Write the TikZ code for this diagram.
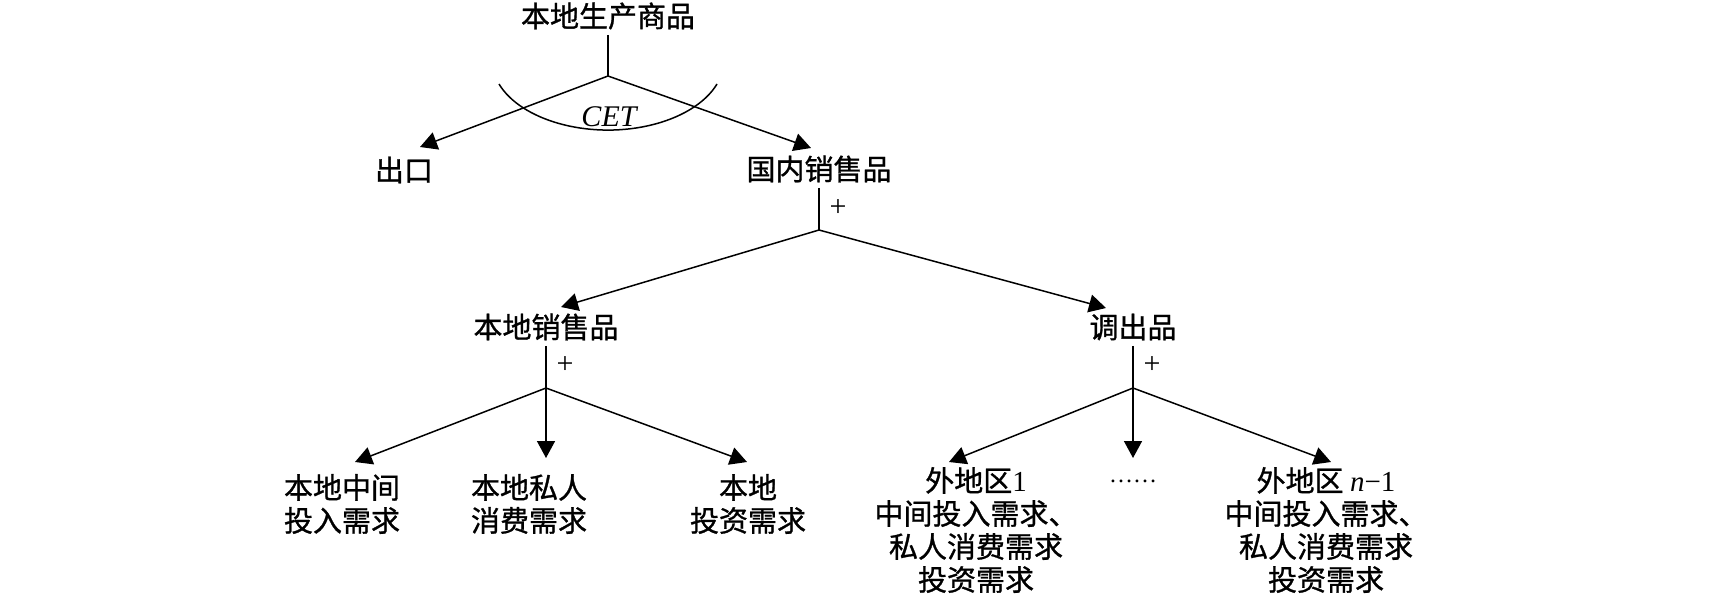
\documentclass[tikz,border=0pt]{standalone}
\usepackage{fontspec}
\setmainfont{Liberation Serif}
\newfontfamily\cjk[FakeBold=1]{Noto Sans CJK SC}
\usetikzlibrary{arrows.meta,calc}

\tikzset{every picture/.style={line width=0.75pt}}
\tikzset{
	lbl/.style={inner sep=0pt, minimum height=18pt, align=center, font=\cjk\fontsize{14.5}{16.5}\selectfont},
	arr/.style={-{Triangle[length=8.5pt,width=9pt]}},
	plus/.style={inner sep=0pt, font=\fontsize{15}{15}\selectfont},
	cetlbl/.style={inner sep=0pt, font=\itshape\fontsize{15}{15}\selectfont}
}

\begin{document}
\begin{tikzpicture}[x=0.5pt,y=0.5pt,yscale=-1]
	\useasboundingbox (0,0) rectangle (1713,595);
	
	% Text Node
	\node [lbl] (top) at (608,16) {本地生产商品};
	% Text Node
	\node [lbl] (chu) at (404,170) {出口};
	% Text Node
	\node [lbl] (guonei) at (819,169) {国内销售品};
	% Text Node
	\node [lbl] (bendi) at (546,327) {本地销售品};
	% Text Node
	\node [lbl] (diaochu) at (1133,327) {调出品};
	% Text Node
	\node [lbl] (zj) at (342,504) {本地中间\\投入需求};
	% Text Node
	\node [lbl] (sr) at (529,504) {本地私人\\消费需求};
	% Text Node
	\node [lbl] (tz) at (748,504) {本地\\投资需求};
	% Text Node
	\node [lbl] (wd1) at (976,530) {外地区\textrm{1}\\中间投入需求、\\私人消费需求\\投资需求};
	% Text Node
	\node [inner sep=0pt, font=\fontsize{12}{12}\selectfont] (dots) at (1133,481) {……};
	% Text Node
	\node [lbl] (wdn) at (1326,530) {外地区 \textrm{\textit{n}−1}\\中间投入需求、\\私人消费需求\\投资需求};
	% Text Node
	\node [cetlbl] (cet) at (609,117) {CET};
	% Text Node
	\node [plus] (p1) at (838,208) {+};
	\node [plus] (p2) at (565,365) {+};
	\node [plus] (p3) at (1152,365) {+};
	
	% branch points
	\coordinate (b1) at (608,76);
	\coordinate (b2) at (819,230);
	\coordinate (b3) at (546,388);
	\coordinate (b4) at (1133,388);
	
	%Straight Lines
	\draw (top) -- (b1);
	\draw [arr] (b1) -- ($(chu)+(16,-23)$);
	\draw [arr] (b1) -- ($(guonei)+(-8,-21)$);
	%Straight Lines
	\draw (guonei) -- (b2);
	\draw [arr] (b2) -- ($(bendi)+(15,-20)$);
	\draw [arr] (b2) -- ($(diaochu)+(-27,-19)$);
	%Straight Lines
	\draw (bendi) -- (b3);
	\draw [arr] (b3) -- ($(zj)+(13,-42)$);
	\draw [arr] (b3) -- ($(sr)+(17,-46)$);
	\draw [arr] (b3) -- ($(tz)+(-1,-42)$);
	%Straight Lines
	\draw (diaochu) -- (b4);
	\draw [arr] (b4) -- ($(wd1)+(-27,-68)$);
	\draw [arr] (b4) -- ($(dots)+(0,-23)$);
	\draw [arr] (b4) -- ($(wdn)+(5,-68)$);
	
	%Shape: Arc
	\draw ($(b1)+(-109,8)$) arc [start angle=160, end angle=20, x radius=116, y radius=70];
	
\end{tikzpicture}
\end{document}
